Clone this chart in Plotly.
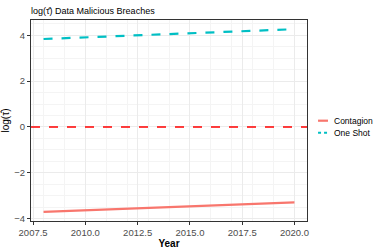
import plotly.graph_objects as go

years = [2008, 2020]
contagion = [-3.71, -3.30]
one_shot = [3.84, 4.27]
ref_line = [0, 0]
x_ticks = [2007.5, 2010.0, 2012.5, 2015.0, 2017.5, 2020.0]
y_ticks = [-4, -2, 0, 2, 4]
series_names = ["Contagion", "One Shot"]
series_colors = ["#F8766D", "#00BFC4"]
series_dash = ["solid", "dash"]

fig = go.Figure()
fig.add_trace(go.Scatter(x=[2007.4, 2020.6], y=ref_line, mode="lines",
                         line=dict(color="#FF0000", width=1.5, dash="dash"),
                         showlegend=False, hoverinfo="skip"))
for name, vals, col, dsh in zip(series_names, [contagion, one_shot], series_colors, series_dash):
    fig.add_trace(go.Scatter(x=years, y=vals, mode="lines", name=name,
                             line=dict(color=col, width=2.2, dash=dsh), showlegend=False))

# manual legend (keeps it inside the page)
leg_y = [0.499, 0.439]
for name, col, dsh, yy in zip(series_names, series_colors, series_dash, leg_y):
    fig.add_shape(type="line", xref="paper", yref="paper", x0=1.040, x1=1.076, y0=yy, y1=yy,
                  line=dict(color=col, width=2.2, dash="solid" if dsh == "solid" else "dot"))
    fig.add_annotation(xref="paper", yref="paper", x=1.09, y=yy, text=name, showarrow=False,
                       xanchor="left", yanchor="middle", font=dict(size=8.5, color="#000"))

axis_common = dict(showgrid=True, gridcolor="#EBEBEB", gridwidth=0.8,
                   minor=dict(showgrid=True, gridcolor="#F4F4F4", gridwidth=0.5),
                   showline=True, linecolor="#333333", linewidth=1, mirror=True,
                   ticks="outside", ticklen=3, tickcolor="#333333",
                   tickfont=dict(size=9.5, color="#4D4D4D"), zeroline=False)

fig.update_xaxes(range=[2007.4, 2020.6], tickvals=x_ticks,
                 ticktext=[f"{v:.1f}" for v in x_ticks],
                 title=dict(text="<b>Year</b>", font=dict(size=10, color="#000"), standoff=1),
                 **axis_common)
fig.update_yaxes(range=[-4.11, 4.67], tickvals=y_ticks,
                 title=dict(text="log(\u03c4\u0302)", font=dict(size=10, color="#000"), standoff=2),
                 **axis_common)

fig.update_layout(
    width=374, height=249,
    margin=dict(l=31, r=67, t=20, b=28, autoexpand=False),
    paper_bgcolor="white", plot_bgcolor="white",
    font=dict(family="Liberation Sans, Arial, sans-serif", size=9, color="#000"),
    title=dict(text="log(\u03c4\u0302) Data Malicious Breaches", x=0.083, xanchor="left",
               y=0.97, yanchor="top", font=dict(size=9, color="#000")),
    showlegend=False,
)

fig.write_html("out.html", config={"displayModeBar": False},
               post_script="document.body.style.margin='0';")
